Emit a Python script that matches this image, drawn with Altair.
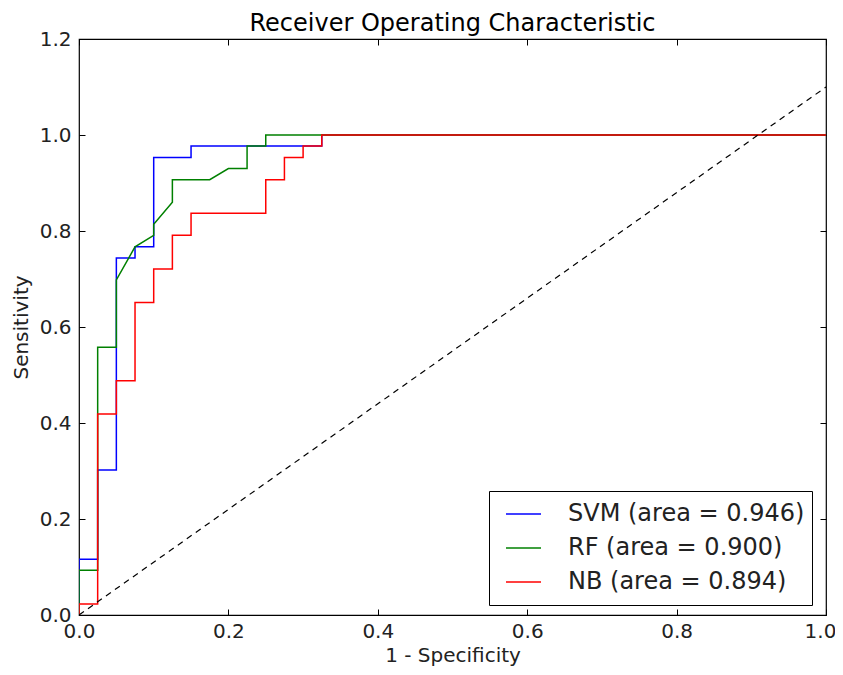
import altair as alt
import pandas as pd

# ---- data ----
title_text = "Receiver Operating Characteristic"
labels = ["SVM (area = 0.946)", "RF (area = 0.900)", "NB (area = 0.894)"]
colors = ["#0000ff", "#008000", "#ff0000"]

svm_x = [0, 0, 0.025, 0.025, 0.05, 0.05, 0.075, 0.075, 0.1, 0.1, 0.15, 0.15, 0.325, 0.325, 1.0]
svm_y = [0, 0.116, 0.116, 0.302, 0.302, 0.744, 0.744, 0.767, 0.767, 0.953, 0.953, 0.977, 0.977, 1.0, 1.0]

rf_x = [0, 0, 0.025, 0.025, 0.05, 0.05, 0.075, 0.1, 0.1, 0.125, 0.125, 0.175, 0.2, 0.225, 0.225, 0.25, 0.25, 1.0]
rf_y = [0, 0.093, 0.093, 0.558, 0.558, 0.698, 0.767, 0.791, 0.814, 0.860, 0.907, 0.907, 0.930, 0.930, 0.977, 0.977, 1.0, 1.0]

nb_x = [0, 0, 0.025, 0.025, 0.05, 0.05, 0.075, 0.075, 0.1, 0.1, 0.125, 0.125, 0.15, 0.15,
        0.25, 0.25, 0.275, 0.275, 0.3, 0.3, 0.325, 0.325, 1.0]
nb_y = [0, 0.023, 0.023, 0.419, 0.419, 0.488, 0.488, 0.651, 0.651, 0.721, 0.721, 0.791, 0.791, 0.837,
        0.837, 0.907, 0.907, 0.953, 0.953, 0.977, 0.977, 1.0, 1.0]

diag_x = [0.0, 1.0]
diag_y = [0.0, 1.1]

x_ticks = [0.0, 0.2, 0.4, 0.6, 0.8, 1.0]
y_ticks = [0.0, 0.2, 0.4, 0.6, 0.8, 1.0, 1.2]

# ---- tables ----
rows = []
for lab, xs, ys in zip(labels, [svm_x, rf_x, nb_x], [svm_y, rf_y, nb_y]):
    for i, (a, b) in enumerate(zip(xs, ys)):
        rows.append({"series": lab, "x": a, "y": b, "i": i})
curves = pd.DataFrame(rows)
diag = pd.DataFrame({"x": diag_x, "y": diag_y, "i": [0, 1]})

W, H = 747, 576
FONT = "DejaVu Sans"
xscale = alt.Scale(domain=[0, 1], nice=False, zero=False)
yscale = alt.Scale(domain=[0, 1.2], nice=False, zero=False)

common_axis = dict(offset=-6, tickSize=6, tickColor="black", tickWidth=1, domain=False, grid=False,
                   labelFont=FONT, labelFontSize=20, labelColor="#222222", labelFlush=False,
                   labelOverlap=False, titleFont=FONT, titleFontSize=20, titleFontWeight="normal",
                   titleColor="#222222", format=".1f")

x_bottom = alt.Axis(orient="bottom", values=x_ticks, labelPadding=6, title="1 - Specificity",
                    titlePadding=4,
                    labelOffset={"condition": {"test": "datum.value >= 1", "value": -6}, "value": 0},
                    **common_axis)
y_left = alt.Axis(orient="left", values=y_ticks, labelPadding=8, title="Sensitivity",
                  titlePadding=8, **common_axis)
x_top = alt.Axis(orient="top", values=x_ticks, labels=False, title=None, **common_axis)
y_right = alt.Axis(orient="right", values=y_ticks, labels=False, title=None, **common_axis)

lines = alt.Chart(curves).mark_line(strokeWidth=1.5, clip=True).encode(
    x=alt.X("x:Q", scale=xscale, axis=x_bottom),
    y=alt.Y("y:Q", scale=yscale, axis=y_left),
    order="i:Q",
    color=alt.Color("series:N", scale=alt.Scale(domain=labels, range=colors),
                    legend=alt.Legend(title=None, orient="none", legendX=410, legendY=452,
                                      symbolType="stroke", symbolSize=1225, symbolStrokeWidth=1.5,
                                      labelFont=FONT, labelFontSize=24, labelColor="#222222",
                                      labelLimit=0,
                                      strokeColor="black", fillColor="white", padding=7,
                                      cornerRadius=0, labelOffset=26, clipHeight=32, rowPadding=2,
                                      symbolOffset=9)),
)

dashed = alt.Chart(diag).mark_line(color="black", strokeWidth=1.2, strokeDash=[6, 5], clip=True).encode(
    x=alt.X("x:Q", scale=xscale, axis=x_top),
    y=alt.Y("y:Q", scale=yscale, axis=y_right),
    order="i:Q",
)

title = alt.Chart(pd.DataFrame({"t": [title_text]})).mark_text(
    font=FONT, fontSize=24, color="black", align="center", baseline="alphabetic"
).encode(text="t:N", x=alt.value(W / 2), y=alt.value(-8))

chart = alt.layer(lines, dashed, title).resolve_axis(x="independent", y="independent").properties(
    width=W, height=H,
    autosize=alt.AutoSizeParams(type="none"),
    padding={"left": 71, "top": 31, "right": 9, "bottom": 52},
).configure_view(stroke="black", strokeWidth=1.2)

chart.save("out.html", embed_options={"renderer": "svg", "actions": False})
